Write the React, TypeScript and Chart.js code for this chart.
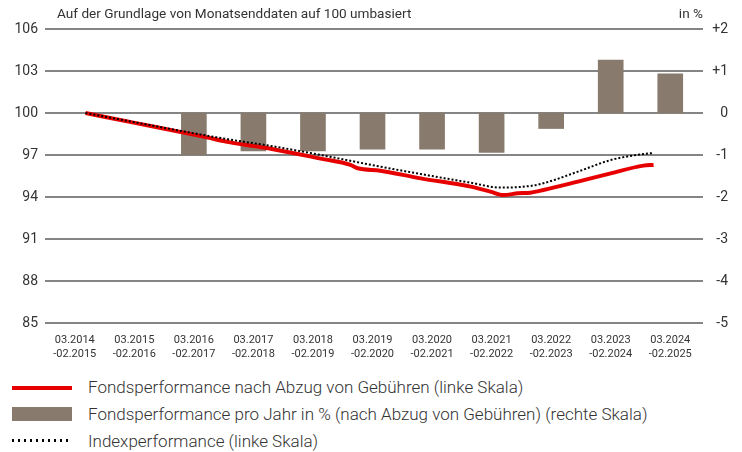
import React, { useEffect, useRef } from "react";
import { Chart, registerables } from "chart.js";

Chart.register(...registerables);

const categories: string[][] = [
  ["03.2014", "-02.2015"],
  ["03.2015", "-02.2016"],
  ["03.2016", "-02.2017"],
  ["03.2017", "-02.2018"],
  ["03.2018", "-02.2019"],
  ["03.2019", "-02.2020"],
  ["03.2020", "-02.2021"],
  ["03.2021", "-02.2022"],
  ["03.2022", "-02.2023"],
  ["03.2023", "-02.2024"],
  ["03.2024", "-02.2025"],
];

// yearly fund performance in % (right scale)
const yearlyPerf: (number | null)[] = [null, null, -1.0, -0.9, -0.9, -0.86, -0.86, -0.94, -0.37, 1.26, 0.93];

// positions along the period axis (0 = first period centre)
const fundX: number[] = [0.18, 1.05, 2.16, 2.61, 3.29, 4.13, 4.63, 4.75, 5.13, 5.81, 6.65, 6.98, 7.2, 7.44, 7.65, 7.87, 8.45, 9.0, 9.55, 9.72];
const fundY: number[] = [100.0, 99.26, 98.31, 97.9, 97.45, 96.74, 96.29, 96.05, 95.88, 95.33, 94.74, 94.38, 94.14, 94.26, 94.31, 94.5, 95.1, 95.69, 96.24, 96.29];

const indexX: number[] = [0.18, 2.16, 2.61, 3.29, 4.13, 5.13, 5.81, 6.65, 7.15, 7.65, 7.87, 8.45, 9.0, 9.55, 9.72];
const indexY: number[] = [100.0, 98.43, 98.1, 97.65, 97.0, 96.17, 95.64, 95.02, 94.67, 94.79, 94.98, 95.81, 96.64, 97.07, 97.14];

const leftTicks = { min: 85, max: 106, step: 3 };
const rightTicks = { min: -5, max: 2, step: 1 };

const FONT = "Roboto, 'Noto Sans', sans-serif";
const RED = "#e60000";
const BROWN = "#887b6d";
const TEXT = "#333333";

export default function App() {
  const ref = useRef<HTMLCanvasElement | null>(null);

  useEffect(() => {
    document.body.style.margin = "0";
    const ctx = ref.current;
    if (!ctx) return;
    const chart = new Chart(ctx, {
      type: "line",
      data: {
        datasets: [
          {
            type: "bar",
            label: "Fondsperformance pro Jahr in %",
            data: yearlyPerf.map((y, i) => ({ x: i, y })),
            backgroundColor: BROWN,
            xAxisID: "x",
            yAxisID: "yR",
            barThickness: 25,
            order: 3,
          } as any,
          {
            type: "line",
            label: "Fondsperformance",
            data: fundX.map((x, i) => ({ x, y: fundY[i] })),
            borderColor: RED,
            borderWidth: 4,
            pointRadius: 0,
            cubicInterpolationMode: "monotone",
            xAxisID: "x",
            yAxisID: "yL",
            order: 2,
          } as any,
          {
            type: "line",
            label: "Indexperformance",
            data: indexX.map((x, i) => ({ x, y: indexY[i] })),
            borderColor: "#000000",
            borderWidth: 2,
            borderDash: [2, 2],
            pointRadius: 0,
            cubicInterpolationMode: "monotone",
            xAxisID: "x",
            yAxisID: "yL",
            order: 1,
          } as any,
        ],
      },
      options: {
        responsive: false,
        animation: false,
        layout: { padding: { left: 0, right: 14, top: 29, bottom: 0 } },
        plugins: { legend: { display: false }, tooltip: { enabled: false }, title: { display: false } },
        scales: {
          x: {
            type: "linear",
            min: -0.5,
            max: 10.55,
            offset: false,
            grid: { display: false },
            border: { display: false },
            afterBuildTicks: (s: any) => {
              s.ticks = categories.map((_, i) => ({ value: i }));
            },
            ticks: {
              color: TEXT,
              font: { family: FONT, size: 11, lineHeight: 1.27 },
              padding: 2,
              maxRotation: 0,
              autoSkip: false,
              callback: (v: any) => categories[Math.round(v)] ?? "",
            },
            afterFit: (s: any) => { s.height = 45; },
          },
          yL: {
            type: "linear",
            position: "left",
            min: leftTicks.min,
            max: leftTicks.max,
            ticks: { stepSize: leftTicks.step, color: TEXT, font: { family: FONT, size: 14 }, padding: 7 },
            grid: { color: "#858585", lineWidth: 2, drawTicks: false },
            border: { display: false },
            afterFit: (s: any) => { s.width = 45; },
          },
          yR: {
            type: "linear",
            position: "right",
            min: rightTicks.min,
            max: rightTicks.max,
            ticks: {
              stepSize: rightTicks.step,
              color: TEXT,
              crossAlign: "far",
              font: { family: FONT, size: 14 },
              callback: (v: any) => (v > 0 ? "+" + v : String(v)),
            },
            grid: { display: false, drawTicks: false },
            border: { display: false },
            afterFit: (s: any) => { s.width = 25; },
          },
        },
      },
    });
    return () => chart.destroy();
  }, []);

  const rowText: React.CSSProperties = {
    position: "absolute",
    left: 88,
    fontSize: 17,
    fontWeight: 300,
    color: TEXT,
    whiteSpace: "nowrap",
    lineHeight: "20px",
  };

  return (
    <div style={{ position: "absolute", left: 0, top: 0, width: 742, height: 452, fontFamily: FONT, background: "#fff" }}>
      <canvas ref={ref} width={742} height={368} style={{ position: "absolute", left: 0, top: 0 }} />
      <div style={{ position: "absolute", left: 57, top: 5, fontSize: 13.6, color: TEXT, whiteSpace: "nowrap" }}>
        Auf der Grundlage von Monatsenddaten auf 100 umbasiert
      </div>
      <div style={{ position: "absolute", right: 39, top: 5, fontSize: 13.6, color: TEXT }}>in %</div>
      <div style={{ position: "absolute", left: 12, top: 386, width: 60, height: 4, background: RED }} />
      <div style={{ ...rowText, top: 377 }}>Fondsperformance nach Abzug von Gebühren (linke Skala)</div>
      <div style={{ position: "absolute", left: 12, top: 407, width: 60, height: 14, background: BROWN }} />
      <div style={{ ...rowText, top: 404 }}>Fondsperformance pro Jahr in % (nach Abzug von Gebühren) (rechte Skala)</div>
      <div
        style={{
          position: "absolute",
          left: 12,
          top: 439,
          width: 60,
          height: 3,
          background: "repeating-linear-gradient(to right, #000 0px, #000 2px, transparent 2px, transparent 6px)",
        }}
      />
      <div style={{ ...rowText, top: 431 }}>Indexperformance (linke Skala)</div>
    </div>
  );
}
